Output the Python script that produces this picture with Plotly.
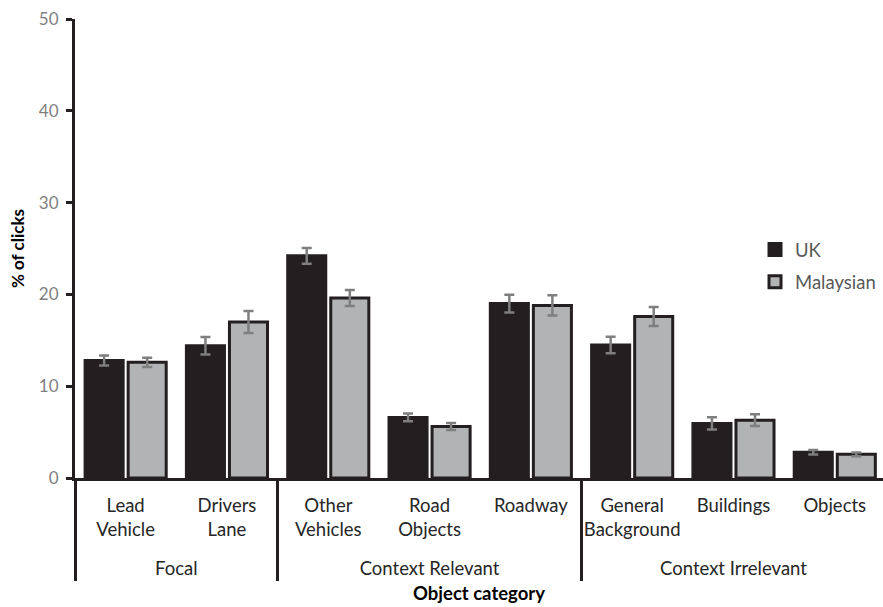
import plotly.graph_objects as go

groups = ["Focal", "Focal", "Context Relevant", "Context Relevant", "Context Relevant",
          "Context Irrelevant", "Context Irrelevant", "Context Irrelevant"]
categories = ["Lead Vehicle", "Drivers Lane", "Other Vehicles", "Road Objects", "Roadway",
              "General Background", "Buildings", "Objects"]
uk = [12.8, 14.4, 24.2, 6.6, 19.0, 14.5, 5.95, 2.8]
uk_err = [0.55, 0.95, 0.85, 0.42, 0.96, 0.9, 0.67, 0.25]
malaysian = [12.6, 17.0, 19.6, 5.6, 18.8, 17.6, 6.3, 2.58]
malaysian_err = [0.5, 1.2, 0.87, 0.38, 1.1, 1.03, 0.64, 0.2]
y_ticks = [0, 10, 20, 30, 40, 50]

FONT = "Lato, Carlito, Open Sans, sans-serif"
OUTLINE = "#231f20"

# two-line tick labels; a transparent third line on one label widens the gap to the group row
SPACER = '<br><span style="font-size:20px;color:rgba(255,255,255,0)">.</span>'
labels = []
for i, c in enumerate(categories):
    parts = c.split(" ")
    if len(parts) == 2:
        lab = parts[0] + "<br>" + parts[1]
        if i == 0:
            lab += SPACER
        labels.append(lab)
    else:
        labels.append(c)

fig = go.Figure()
fig.add_trace(go.Bar(
    name="UK", x=[groups, labels], y=uk,
    marker=dict(color="#231f20", line=dict(color=OUTLINE, width=3)),
    error_y=dict(type="data", array=uk_err, color="#7f7f7f", thickness=2.5, width=5),
    legendgroup="uk",
))
fig.add_trace(go.Bar(
    name="Malaysian", x=[groups, labels], y=malaysian,
    marker=dict(color="#b2b3b5", line=dict(color=OUTLINE, width=3)),
    error_y=dict(type="data", array=malaysian_err, color="#7f7f7f", thickness=2.5, width=5),
    legendgroup="mal",
))

fig.update_layout(
    width=883, height=607,
    margin=dict(l=75, r=0, t=19, b=129, autoexpand=False),
    plot_bgcolor="white", paper_bgcolor="white",
    barmode="group", bargap=0.15, bargroupgap=0.116,
    font=dict(family=FONT, size=18.5, color="#262626"),
    showlegend=True,
    legend=dict(x=0.8416, y=0.538, xanchor="left", yanchor="top",
                font=dict(size=18.5, color="#595959"), tracegroupgap=5,
                itemwidth=30, bgcolor="rgba(0,0,0,0)"),
    xaxis=dict(
        type="multicategory",
        range=[-0.5, 7.476],
        showline=True, linecolor=OUTLINE, linewidth=3,
        ticks="", showgrid=False, tickangle=0,
        showdividers=True, dividercolor=OUTLINE, dividerwidth=3,
        tickfont=dict(size=18.5, color="#262626"),
        ticklabelstandoff=9,
        title=dict(text="<b>Object category</b>", font=dict(size=18.5, color="#000000"), standoff=9),
    ),
    yaxis=dict(
        range=[0, 50], tickvals=y_ticks,
        showline=True, linecolor=OUTLINE, linewidth=3,
        ticks="outside", ticklen=6, tickwidth=3, tickcolor=OUTLINE,
        showgrid=False, zeroline=False,
        tickfont=dict(size=17, color="#7f7f7f"),
        ticklabelstandoff=4,
        title=dict(text="<b>% of clicks</b>", font=dict(size=17, color="#000000"), standoff=10),
    ),
)

fig.write_html("out.html")
